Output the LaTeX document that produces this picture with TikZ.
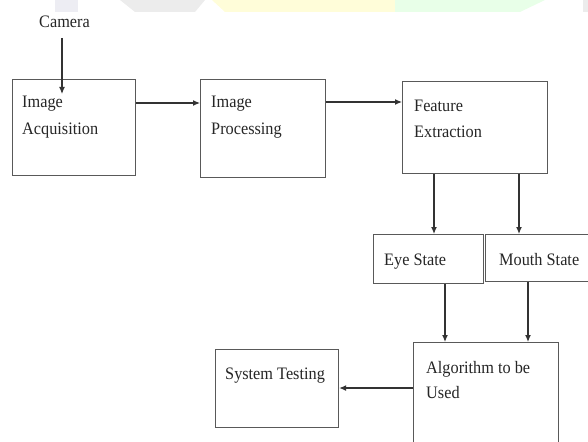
\documentclass[tikz,border=0pt]{standalone}
\usepackage{fontspec}
\setmainfont{Liberation Serif}[FakeStretch=0.93]
\usetikzlibrary{arrows.meta,calc}
\begin{document}
\begin{tikzpicture}[x=1pt,y=-1pt,
  box/.style={draw=black!65,line width=1.2pt,fill=white,anchor=north west,inner sep=0pt},
  txt/.style={anchor=base west,inner sep=0pt,font=\fontsize{17.5}{20}\selectfont,text=black!85},
  arr/.style={draw=black!80,line width=1.2pt,-{Latex[length=7pt,width=6pt]}}]
\useasboundingbox (0,0) rectangle (588,441);
\clip (0,0) rectangle (588,441);
% faint watermark
\fill[blue!20!gray!12] (55,0) rectangle (78,12);
\fill[gray!15] (120,0) -- (205,0) -- (195,12) -- (135,12) -- cycle;
\fill[yellow!15] (212,0) -- (395,0) -- (395,12) -- (225,12) -- cycle;
\fill[green!9] (395,0) -- (545,0) -- (520,12) -- (395,12) -- cycle;
\fill[gray!15] (583,0) rectangle (588,12);
% boxes
\node[box,minimum width=123pt,minimum height=96pt] (acq) at (12,79) {};
\node[box,minimum width=125pt,minimum height=98pt] (proc) at (200,79) {};
\node[box,minimum width=145pt,minimum height=92pt] (feat) at (402,81) {};
\node[box,minimum width=110pt,minimum height=49pt] (eye) at (373,234) {};
\node[box,minimum width=106pt,minimum height=47pt] (mouth) at (485,234) {};
\node[box,minimum width=145pt,minimum height=120pt] (algo) at (413,342) {};
\node[box,minimum width=123pt,minimum height=78pt] (test) at (215,349) {};
% texts
\node[txt] (cam) at (39,28) {Camera};
\node[txt] (t1a) at (22,107) {Image};
\node[txt] (t1b) at (22,134) {Acquisition};
\node[txt] (t2a) at (211,107) {Image};
\node[txt] (t2b) at (211,134) {Processing};
\node[txt] (t3a) at (414,111) {Feature};
\node[txt] (t3b) at (414,137) {Extraction};
\node[txt] (t4) at (384,265) {Eye State};
\node[txt] (t5) at (499,265) {Mouth State};
\node[txt] (t6a) at (426,373) {Algorithm to be};
\node[txt] (t6b) at (426,398) {Used};
\node[txt] (t7) at (225,379) {System Testing};
% connectors
\coordinate (camtop) at (62,38);
\coordinate (camend) at (62,94);
\draw[arr] (camtop) -- (camend);
\coordinate (r1) at (0,103);
\coordinate (r2) at (0,102);
\draw[arr] (acq.east |- r1) -- (proc.west |- r1);
\draw[arr] (proc.east |- r2) -- (feat.west |- r2);
\coordinate (c1) at (434,0);
\coordinate (c2) at (519,0);
\draw[arr] (feat.south -| c1) -- (eye.north -| c1);
\draw[arr] (feat.south -| c2) -- (mouth.north -| c2);
\coordinate (c3) at (445,0);
\coordinate (c4) at (528,0);
\draw[arr] (eye.south -| c3) -- (algo.north -| c3);
\draw[arr] (mouth.south -| c4) -- (algo.north -| c4);
\coordinate (r3) at (0,388);
\draw[arr] (algo.west |- r3) -- (test.east |- r3);
\end{tikzpicture}
\end{document}
